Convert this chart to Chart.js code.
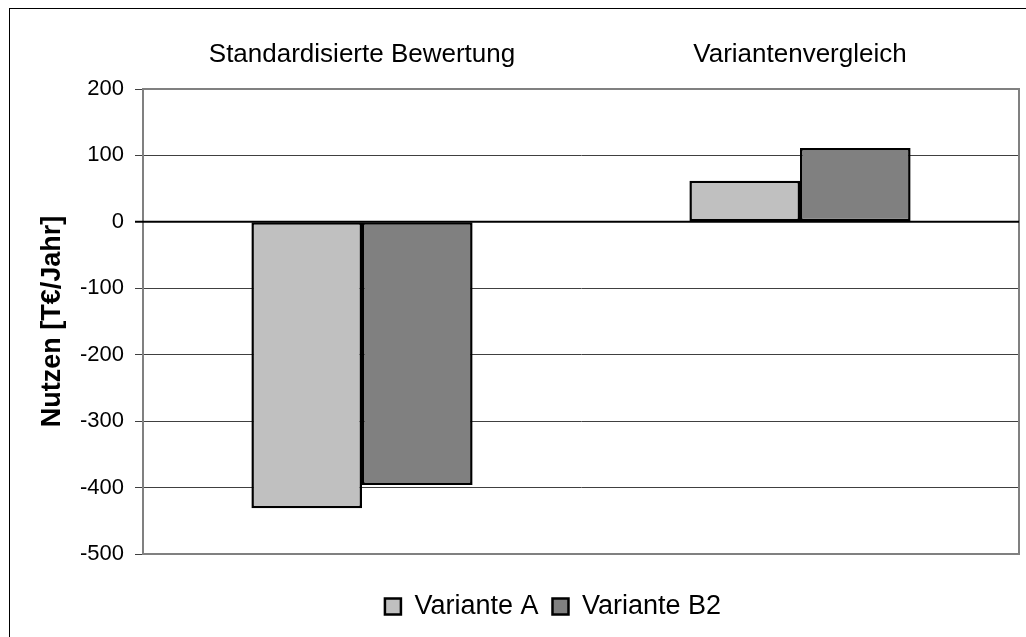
<!DOCTYPE html>
<html>
<head>
<meta charset="utf-8">
<script src="https://cdn.jsdelivr.net/npm/chart.js@4"></script>
<style>
  html, body { margin: 0; padding: 0; background: #fff; }
  #wrap { position: relative; width: 1026px; height: 637px; }
  #frame {
    position: absolute; left: 9px; top: 8px; right: 0; bottom: 0;
    border-left: 1px solid #000; border-top: 1px solid #000;
    pointer-events: none;
  }
</style>
</head>
<body>
<div id="wrap">
  <canvas id="chart" width="1026" height="637"></canvas>
  <div id="frame"></div>
</div>
<script>
const categories = ['Standardisierte Bewertung', 'Variantenvergleich'];
const varianteA = [-431, 62];
const varianteB2 = [-396, 111];
const yTicks = [200, 100, 0, -100, -200, -300, -400, -500];

const FONT = '"Liberation Sans", Arial, sans-serif';

// grey frame round the plot area
const plotFrame = {
  id: 'plotFrame',
  beforeDatasetsDraw(chart) {
    const a = chart.chartArea;
    const ctx = chart.ctx;
    ctx.save();
    ctx.strokeStyle = '#808080';
    ctx.lineWidth = 2;
    ctx.strokeRect(a.left, a.top, a.right - a.left, a.bottom - a.top);
    ctx.restore();
  }
};

// zero line on top of the bars
const zeroLine = {
  id: 'zeroLine',
  afterDatasetsDraw(chart) {
    const y = chart.scales.y.getPixelForValue(0);
    const a = chart.chartArea;
    const ctx = chart.ctx;
    ctx.save();
    ctx.strokeStyle = '#000';
    ctx.lineWidth = 2;
    ctx.beginPath();
    ctx.moveTo(a.left - 8, y);
    ctx.lineTo(a.right, y);
    ctx.stroke();
    ctx.restore();
  }
};

// legend sits a bit right of the canvas centre in the original
const legendShift = {
  id: 'legendShift',
  afterLayout(chart) {
    chart.legend.left += 27;
    chart.legend.right += 27;
  }
};

function gridColor(ctx) {
  const v = ctx.tick && ctx.tick.value;
  if (v === 0) return '#000';
  if (v === 200 || v === -500) return '#808080';
  return '#404040';
}

new Chart(document.getElementById('chart'), {
  type: 'bar',
  data: {
    labels: categories,
    datasets: [
      {
        label: 'Variante A',
        data: varianteA,
        backgroundColor: '#C0C0C0',
        borderColor: '#000',
        borderWidth: 2.5,
        borderSkipped: false,
        categoryPercentage: 0.505,
        barPercentage: 1
      },
      {
        label: 'Variante B2',
        data: varianteB2,
        backgroundColor: '#808080',
        borderColor: '#000',
        borderWidth: 2.5,
        borderSkipped: false,
        categoryPercentage: 0.505,
        barPercentage: 1
      }
    ]
  },
  options: {
    responsive: false,
    animation: false,
    layout: { padding: { left: 33, top: 0, right: 7, bottom: 7 } },
    plugins: {
      legend: {
        position: 'bottom',
        labels: {
          color: '#000',
          font: { family: FONT, size: 27 },
          boxWidth: 16,
          boxHeight: 16,
          padding: 14
        }
      },
      tooltip: { enabled: false }
    },
    scales: {
      x: {
        position: 'top',
        grid: { display: false, drawTicks: false },
        border: { display: false },
        ticks: {
          color: '#000',
          font: { family: FONT, size: 26 },
          padding: 19,
          maxRotation: 0
        },
        afterFit: (s) => { s.height = 89; }
      },
      // empty strip between plot and legend
      gap: {
        type: 'linear',
        axis: 'x',
        position: 'bottom',
        grid: { display: false },
        border: { display: false },
        ticks: { display: false },
        afterFit: (s) => { s.height = 25; }
      },
      y: {
        min: -500,
        max: 200,
        afterBuildTicks: (s) => { s.ticks = yTicks.map(v => ({ value: v })); },
        grid: {
          color: gridColor,
          tickColor: '#404040',
          lineWidth: 1,
          tickLength: 8
        },
        border: { color: '#404040', width: 2 },
        ticks: {
          color: '#000',
          font: { family: FONT, size: 22 },
          padding: 11
        },
        title: {
          display: true,
          text: 'Nutzen [T€/Jahr]',
          color: '#000',
          padding: { top: 3, bottom: 4 },
          font: { family: FONT, size: 27, weight: 'bold' }
        },
        afterFit: (s) => { s.width = 110; }
      }
    }
  },
  plugins: [plotFrame, zeroLine, legendShift]
});
</script>
</body>
</html>
